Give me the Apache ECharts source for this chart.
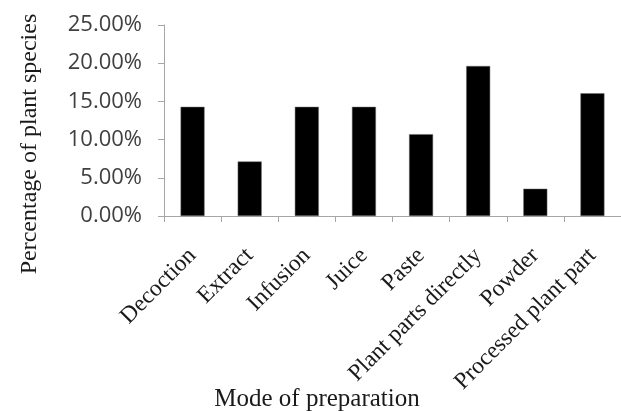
<!DOCTYPE html>
<html>
<head>
<meta charset="utf-8">
<script src="https://cdn.jsdelivr.net/npm/echarts@6/dist/echarts.min.js"></script>
<style>
  html, body { margin: 0; padding: 0; background: #fff; }
  #chart { width: 621px; height: 411px; }
</style>
</head>
<body>
<div id="chart"></div>
<script>
// Modes of preparation and share of plant species (%)
const categories = ['Decoction', 'Extract', 'Infusion', 'Juice', 'Paste', 'Plant parts directly', 'Powder', 'Processed plant part'];
const percentages = [14.29, 7.14, 14.29, 14.29, 10.71, 19.64, 3.57, 16.07];
const yTicks = { min: 0, max: 25, step: 5 };

const axisGray = '#a6a6a6';
const chart = echarts.init(document.getElementById('chart'), null, { renderer: 'canvas' });

chart.setOption({
  animation: false,
  backgroundColor: '#ffffff',
  grid: { left: 164, top: 25, width: 465, height: 191, containLabel: false },
  xAxis: {
    type: 'category',
    data: categories,
    boundaryGap: true,
    axisLine: { lineStyle: { color: axisGray, width: 1 } },
    axisTick: { show: true, alignWithLabel: false, length: 6, lineStyle: { color: axisGray } },
    axisLabel: {
      interval: 0,
      rotate: 45,
      margin: 36,
      fontFamily: 'Liberation Serif',
      fontSize: 23.5,
      color: '#1a1a1a'
    },
    splitLine: { show: false }
  },
  yAxis: {
    type: 'value',
    min: yTicks.min,
    max: yTicks.max,
    interval: yTicks.step,
    axisLine: { show: true, lineStyle: { color: axisGray, width: 1 } },
    axisTick: { show: true, length: 6, lineStyle: { color: axisGray } },
    axisLabel: {
      margin: 22,
      fontFamily: 'Open Sans',
      fontSize: 22,
      color: '#404040',
      formatter: v => v.toFixed(2) + '%'
    },
    splitLine: { show: false }
  },
  graphic: [
    {
      type: 'text',
      x: 30,
      y: 144,
      rotation: Math.PI / 2,
      style: {
        text: 'Percentage of plant species',
        fontFamily: 'Liberation Serif',
        fontSize: 24,
        fill: '#1a1a1a',
        align: 'center',
        verticalAlign: 'middle'
      }
    },
    {
      type: 'text',
      x: 317,
      y: 399,
      style: {
        text: 'Mode of preparation',
        fontFamily: 'Liberation Serif',
        fontSize: 25,
        fill: '#1a1a1a',
        align: 'center',
        verticalAlign: 'middle'
      }
    }
  ],
  series: [{
    type: 'bar',
    data: percentages,
    barWidth: 24,
    itemStyle: { color: '#000000', borderColor: '#6e6e6e', borderWidth: 0.5 }
  }]
});
</script>
</body>
</html>
